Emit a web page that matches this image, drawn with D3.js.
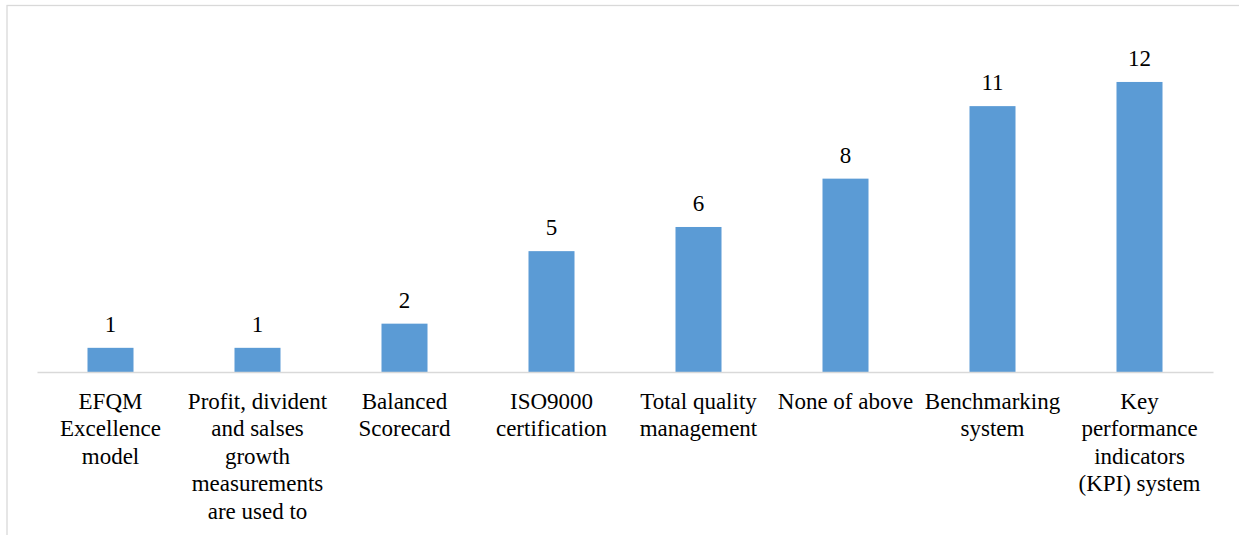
<!DOCTYPE html>
<html>
<head>
<meta charset="utf-8">
<script src="https://cdn.jsdelivr.net/npm/d3@7"></script>
<style>
  html, body { margin: 0; padding: 0; background: #fff; }
  svg { display: block; }
  .lbl { font-family: "Liberation Serif", "Times New Roman", Times, serif; font-size: 23px; fill: #000; }
</style>
</head>
<body>
<svg id="chart" width="1239" height="535"></svg>
<script>
const categories = [
  "EFQM Excellence model",
  "Profit, divident and salses growth measurements are used to",
  "Balanced Scorecard",
  "ISO9000 certification",
  "Total quality management",
  "None of above",
  "Benchmarking system",
  "Key performance indicators (KPI) system"
];
const categoryLines = [
  ["EFQM", "Excellence", "model"],
  ["Profit, divident", "and salses", "growth", "measurements", "are used to"],
  ["Balanced", "Scorecard"],
  ["ISO9000", "certification"],
  ["Total quality", "management"],
  ["None of above"],
  ["Benchmarking", "system"],
  ["Key", "performance", "indicators", "(KPI) system"]
];
const values = [1, 1, 2, 5, 6, 8, 11, 12];

const svg = d3.select("#chart");
const plot = { left: 37, right: 1213, top: 34, bottom: 372 };

// outer frame (partially visible)
svg.append("rect")
  .attr("x", 7).attr("y", 5.5)
  .attr("width", 1260).attr("height", 560)
  .attr("fill", "none").attr("stroke", "#d9d9d9").attr("stroke-width", 1.3);

const x = d3.scaleBand()
  .domain(categories)
  .range([plot.left, plot.right])
  .paddingInner(0.687)
  .paddingOuter(0.3435);

const y = d3.scaleLinear()
  .domain([0, 14])
  .range([plot.bottom, plot.bottom - 14 * 24.17]);

// bars
svg.append("g").selectAll("rect")
  .data(values)
  .join("rect")
  .attr("x", (d, i) => x(categories[i]))
  .attr("y", d => y(d))
  .attr("width", x.bandwidth())
  .attr("height", d => y(0) - y(d))
  .attr("fill", "#5b9bd5");

// axis line
const xAxis = d3.axisBottom(x).tickSize(0).tickFormat("");
const gx = svg.append("g")
  .attr("transform", `translate(0,${plot.bottom})`)
  .call(xAxis);
gx.select(".domain").attr("stroke", "#d9d9d9").attr("stroke-width", 1.6);

// data labels
svg.append("g").selectAll("text")
  .data(values)
  .join("text")
  .attr("class", "lbl")
  .style("font-family", '"Liberation Serif", serif')
  .attr("x", (d, i) => x(categories[i]) + x.bandwidth() / 2)
  .attr("y", d => y(d) - 16)
  .attr("text-anchor", "middle")
  .text(d => d);

// category labels
const lab = svg.append("g");
categories.forEach((c, i) => {
  const cx = x(c) + x.bandwidth() / 2;
  const t = lab.append("text")
    .attr("class", "lbl")
    .style("font-family", '"Liberation Serif", serif')
    .attr("text-anchor", "middle");
  categoryLines[i].forEach((line, j) => {
    t.append("tspan")
      .attr("x", cx)
      .attr("y", 408.5 + j * 27.5)
      .text(line);
  });
});
</script>
</body>
</html>
